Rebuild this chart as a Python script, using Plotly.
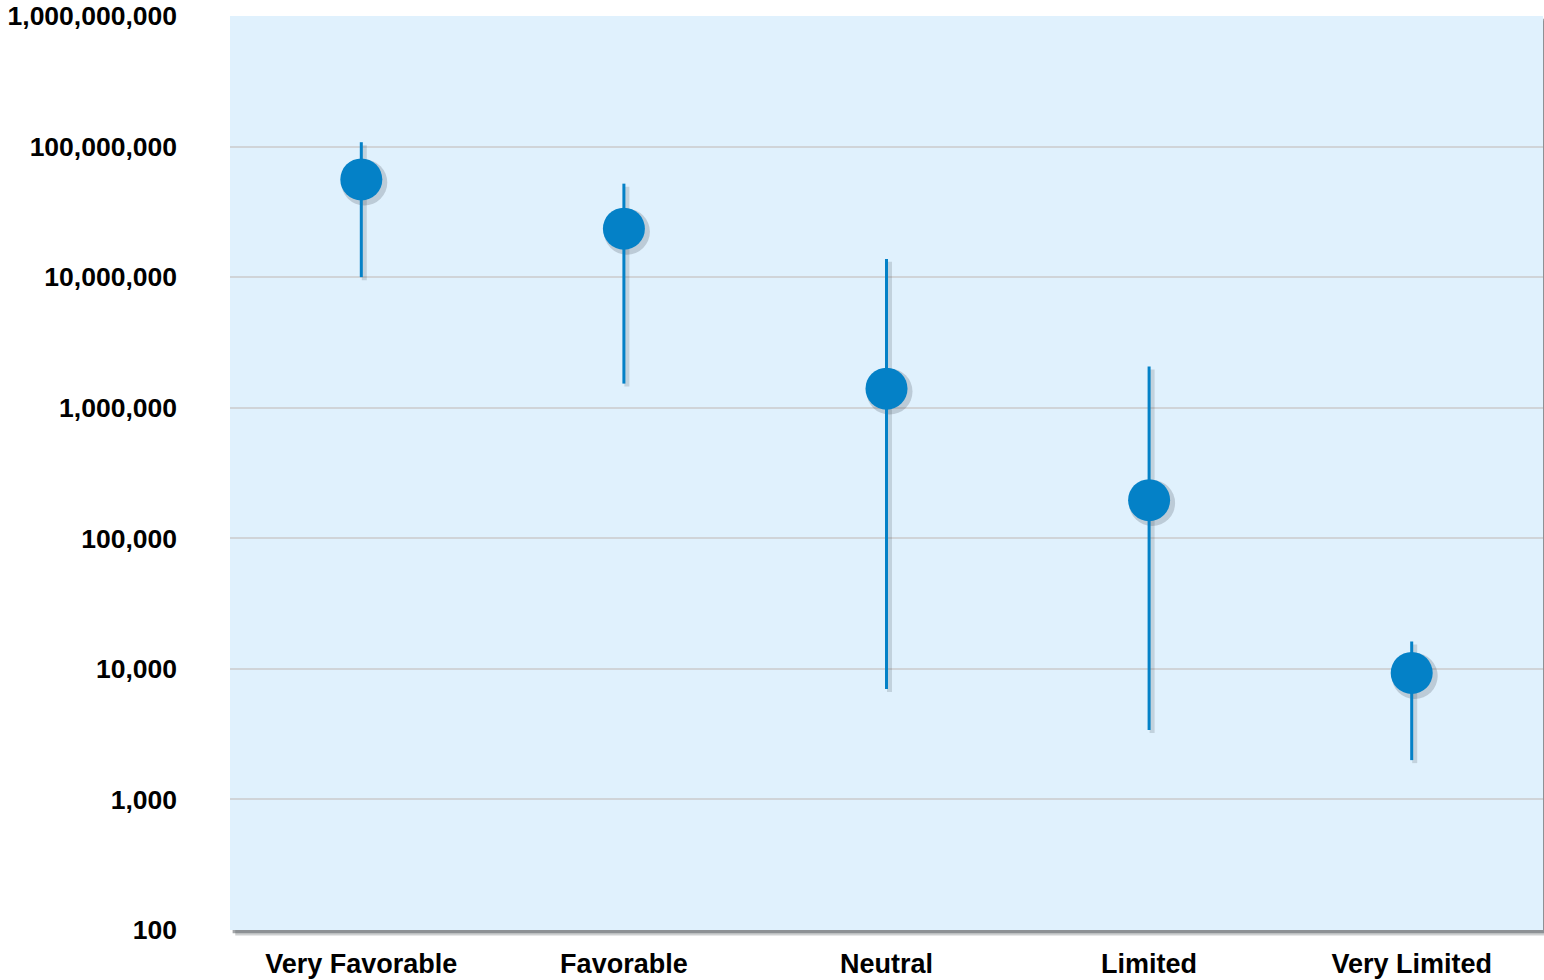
import plotly.graph_objects as go

# Range of outcomes per category (log scale)
categories = ["Very Favorable", "Favorable", "Neutral", "Limited", "Very Limited"]
central = [56_000_000, 23_500_000, 1_400_000, 196_000, 9_300]
upper = [108_000_000, 52_000_000, 13_800_000, 2_070_000, 16_200]
lower = [10_000_000, 1_530_000, 7_000, 3_400, 2_000]

tick_vals = [100, 1_000, 10_000, 100_000, 1_000_000, 10_000_000, 100_000_000, 1_000_000_000]
tick_text = ["100", "1,000", "10,000", "100,000", "1,000,000", "10,000,000",
             "100,000,000", "1,000,000,000"]

BLUE = "#0481C7"
W, H = 1544, 980
ML, MR, MT, MB = 230, 1, 15, 47
pw = W - ML - MR
ph = H - MT - MB
Y_LO, Y_HI = 2, 9

# shadow offset, in pixels, converted to axis units
off_px = 3
dx_cat = off_px * 5 / pw
dy_log = off_px * (Y_HI - Y_LO) / ph

err_plus = [u - c for u, c in zip(upper, central)]
err_minus = [c - l for c, l in zip(central, lower)]

fig = go.Figure()

# soft drop shadow on the base axes (range nudged so it sits down-right)
fig.add_trace(go.Scatter(
    x=categories, y=central, mode="markers",
    marker=dict(size=46, color="rgba(60,70,80,0.22)", line=dict(width=0)),
    error_y=dict(type="data", symmetric=False, array=err_plus, arrayminus=err_minus,
                 color="rgba(60,70,80,0.18)", thickness=5, width=0),
    hoverinfo="skip", showlegend=False,
))

# main markers on overlaying axes so they are drawn on top
fig.add_trace(go.Scatter(
    x=categories, y=central, mode="markers",
    xaxis="x2", yaxis="y2",
    marker=dict(size=42, color=BLUE, line=dict(width=0)),
    error_y=dict(type="data", symmetric=False, array=err_plus, arrayminus=err_minus,
                 color=BLUE, thickness=3, width=0),
    showlegend=False,
))

axis_font = dict(family="Liberation Sans, Arial, sans-serif", size=26.5,
                 color="#000000", weight="bold")

fig.update_layout(
    width=W, height=H,
    margin=dict(l=ML, r=MR, t=MT, b=MB),
    paper_bgcolor="white",
    plot_bgcolor="rgba(0,0,0,0)",
    xaxis=dict(
        type="category", range=[-0.5 - dx_cat, 4.5 - dx_cat],
        showgrid=False, zeroline=False, showline=False, ticks="",
        showticklabels=False,
    ),
    yaxis=dict(
        type="log", range=[Y_LO + dy_log, Y_HI + dy_log],
        showgrid=False, zeroline=False, showline=False, ticks="",
        showticklabels=False,
    ),
    xaxis2=dict(
        type="category", range=[-0.5, 4.5], overlaying="x", anchor="y2",
        showgrid=False, zeroline=False, showline=False, ticks="",
        tickfont=dict(axis_font, size=27), ticklabelstandoff=15,
    ),
    yaxis2=dict(
        type="log", range=[Y_LO, Y_HI], overlaying="y", anchor="x2",
        tickvals=tick_vals, ticktext=tick_text,
        showgrid=True, gridcolor="#D0D4D8", gridwidth=2,
        zeroline=False, showline=False, ticks="",
        tickfont=axis_font, ticklabelstandoff=52,
    ),
    shapes=[
        # plot-area shadow
        dict(type="rect", xref="x domain", yref="y domain", layer="below",
             x0=0.004, x1=1.004, y0=-0.006, y1=0.995,
             fillcolor="rgba(90,95,100,0.30)", line=dict(width=0)),
        dict(type="rect", xref="x domain", yref="y domain", layer="below",
             x0=0.002, x1=1.002, y0=-0.0035, y1=0.997,
             fillcolor="rgba(90,95,100,0.55)", line=dict(width=0)),
        # plot-area background
        dict(type="rect", xref="x domain", yref="y domain", layer="below",
             x0=0, x1=1, y0=0, y1=1,
             fillcolor="#E0F1FD", line=dict(width=0)),
    ],
)

fig.write_html("out.html")
